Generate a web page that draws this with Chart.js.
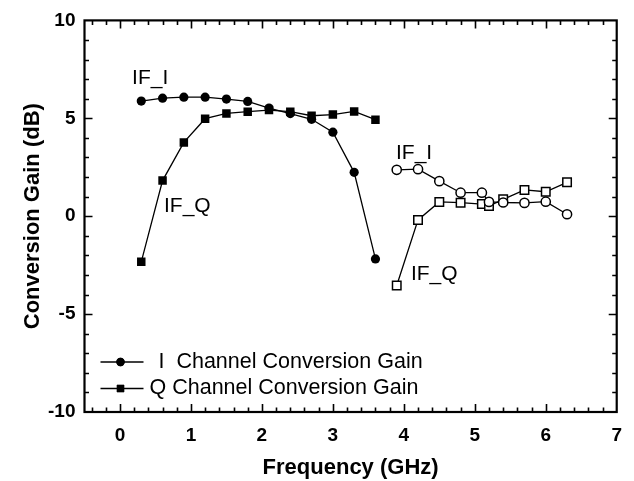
<!DOCTYPE html>
<html>
<head>
<meta charset="utf-8">
<script src="https://cdn.jsdelivr.net/npm/chart.js@4.4.1/dist/chart.umd.min.js"></script>
<style>
  html, body { margin: 0; padding: 0; background: #fff; }
  #wrap { width: 634px; height: 481px; position: relative; }
</style>
</head>
<body>
<div id="wrap"><canvas id="c"></canvas></div>
<script>
// conversion gain vs frequency, two bands (low band filled markers, high band open)
const freqLow  = [0.3, 0.6, 0.9, 1.2, 1.5, 1.8, 2.1, 2.4, 2.7, 3.0, 3.3, 3.6];
const iGainLow = [5.88, 6.03, 6.08, 6.08, 5.98, 5.86, 5.52, 5.24, 4.95, 4.29, 2.24, -2.18];
const qGainLow = [-2.33, 1.82, 3.77, 4.98, 5.25, 5.34, 5.42, 5.34, 5.13, 5.19, 5.35, 4.93];

const freqHigh  = [3.9, 4.2, 4.5, 4.8, 5.1, 5.2, 5.4, 5.7, 6.0, 6.3];
const iGainHigh = [2.37, 2.40, 1.79, 1.20, 1.20, 0.73, 0.70, 0.68, 0.74, 0.10];
const qGainHigh = [-3.54, -0.19, 0.73, 0.69, 0.62, 0.52, 0.86, 1.34, 1.25, 1.73];

const seriesLabels = ['I  Channel Conversion Gain', 'Q Channel Conversion Gain'];

const xTicks = [0, 1, 2, 3, 4, 5, 6, 7];
const yTicks = [-10, -5, 0, 5, 10];

// text callouts, in data units
const noteText = ['IF_I', 'IF_Q', 'IF_I', 'IF_Q'];
const noteX    = [0.17, 0.62, 3.89, 4.1];
const noteY    = [7.06, 0.5, 3.2, -2.95];

const FONT = '"Liberation Sans", Arial, Helvetica, sans-serif';

const pts = (xs, ys) => xs.map((x, i) => ({ x, y: ys[i] }));

function ds(label, data, style, filled) {
  return {
    label, data,
    showLine: true,
    borderColor: '#000',
    borderWidth: 1.3,
    pointStyle: style,
    pointRadius: style === 'rect' ? 6 : 4.6,
    pointBorderWidth: filled ? 0 : 1.5,
    pointBorderColor: '#000',
    pointBackgroundColor: filled ? '#000' : '#fff',
    tension: 0,
  };
}

// frame with inward major/minor ticks on all four sides, legend and callouts
const decor = {
  id: 'decor',
  afterDatasetsDraw(chart) {
    const { ctx, chartArea: a, scales: { x, y } } = chart;
    ctx.save();
    ctx.strokeStyle = '#000';
    ctx.lineWidth = 1.6;
    for (let i = -4; i <= 69; i += 2) {
      const v = i / 10;
      const major = Number.isInteger(v);
      const len = major ? 8 : 4.5;
      const px = Math.round(x.getPixelForValue(v)) + 0.5;
      ctx.beginPath();
      ctx.moveTo(px, a.bottom); ctx.lineTo(px, a.bottom - len);
      ctx.moveTo(px, a.top); ctx.lineTo(px, a.top + len);
      ctx.stroke();
    }
    for (let v = -9; v <= 9; v++) {
      const major = v % 5 === 0;
      const len = major ? 8 : 4.5;
      const py = Math.round(y.getPixelForValue(v)) + 0.5;
      ctx.beginPath();
      ctx.moveTo(a.left, py); ctx.lineTo(a.left + len, py);
      ctx.moveTo(a.right, py); ctx.lineTo(a.right - len, py);
      ctx.stroke();
    }
    ctx.lineWidth = 2.2;
    ctx.strokeRect(a.left, a.top, a.right - a.left, a.bottom - a.top);

    // legend
    const rows = [a.bottom - 50, a.bottom - 23.5];
    const textX = [a.left + 74, a.left + 65];
    ctx.font = '21.5px ' + FONT;
    ctx.textBaseline = 'middle';
    ctx.fillStyle = '#000';
    rows.forEach((ry, i) => {
      const d = chart.data.datasets[i];
      const lx = a.left + 16;
      ctx.lineWidth = d.borderWidth;
      ctx.beginPath();
      ctx.moveTo(lx, ry); ctx.lineTo(lx + 43, ry);
      ctx.stroke();
      Chart.helpers.drawPoint(ctx, {
        pointStyle: d.pointStyle, radius: d.pointStyle === 'rect' ? 5.2 : 4.2,
        borderWidth: 0, rotation: 0,
      }, lx + 20, ry);
      ctx.fill();
      ctx.textAlign = 'left';
      ctx.fillText(d.label, textX[i], ry);
    });

    // callouts
    ctx.font = '21px ' + FONT;
    ctx.textAlign = 'left';
    noteText.forEach((t, i) => {
      ctx.fillText(t, x.getPixelForValue(noteX[i]), y.getPixelForValue(noteY[i]));
    });
    ctx.restore();
  }
};

Chart.defaults.font.family = FONT;
Chart.defaults.color = '#000';

new Chart(document.getElementById('c'), {
  type: 'scatter',
  data: {
    datasets: [
      ds(seriesLabels[0], pts(freqLow, iGainLow), 'circle', true),
      ds(seriesLabels[1], pts(freqLow, qGainLow), 'rect', true),
      ds('I high band', pts(freqHigh, iGainHigh), 'circle', false),
      ds('Q high band', pts(freqHigh, qGainHigh), 'rect', false),
    ]
  },
  options: {
    responsive: true,
    maintainAspectRatio: false,
    animation: false,
    layout: { padding: { top: 20, right: 13.5, left: 0, bottom: 0 } },
    plugins: { legend: { display: false }, tooltip: { enabled: false } },
    scales: {
      x: {
        type: 'linear', min: -0.5, max: 7,
        afterBuildTicks: (s) => { s.ticks = xTicks.map(v => ({ value: v })); },
        afterFit: (s) => { s.height = 69; },
        grid: { display: false, drawTicks: false },
        border: { display: false },
        ticks: { font: { size: 19, weight: 'bold' }, padding: 12, maxRotation: 0 },
        title: { display: true, text: 'Frequency (GHz)', font: { size: 22, weight: 'bold' }, padding: { top: 4, bottom: 0 } },
      },
      y: {
        type: 'linear', min: -10, max: 10,
        afterBuildTicks: (s) => { s.ticks = yTicks.map(v => ({ value: v })); },
        afterFit: (s) => { s.width = 84.5; },
        grid: { display: false, drawTicks: false },
        border: { display: false },
        ticks: { font: { size: 19, weight: 'bold' }, padding: 9 },
        title: { display: true, text: 'Conversion Gain (dB)', font: { size: 22, weight: 'bold' }, padding: { top: 20, bottom: 0 } },
      },
    },
  },
  plugins: [decor],
});
</script>
</body>
</html>
